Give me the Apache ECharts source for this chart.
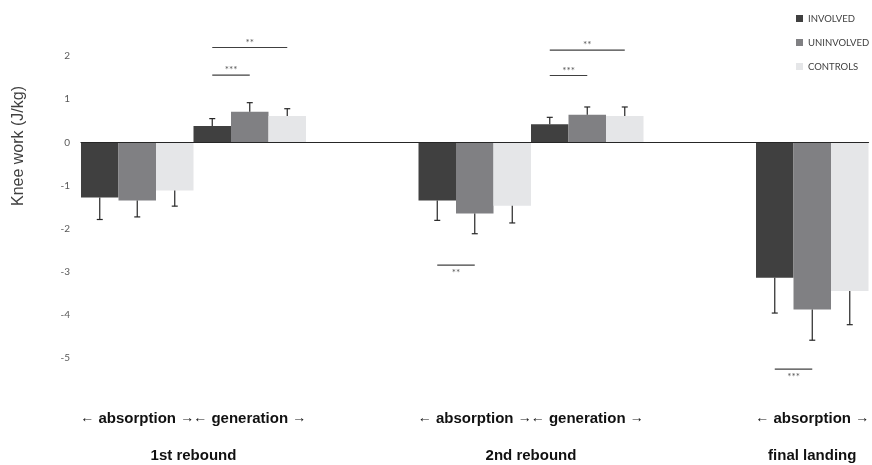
<!DOCTYPE html>
<html>
<head>
<meta charset="utf-8">
<script src="https://cdn.jsdelivr.net/npm/echarts@6/dist/echarts.min.js"></script>
<style>html,body{margin:0;padding:0;background:#fff;overflow:hidden;}#c{width:872px;height:465px;}</style>
</head>
<body>
<div id="c"></div>
<script>
// ---- data ----
const categories = ['abs1', 'gen1', 'gap1', 'abs2', 'gen2', 'gap2', 'abs3'];
const phaseLabels = ['absorption', 'generation', '', 'absorption', 'generation', '', 'absorption'];
const groupNames = ['1st rebound', '2nd rebound', 'final landing'];
const groupPositions = [0.5, 3.5, 6];
const seriesNames = ['INVOLVED', 'UNINVOLVED', 'CONTROLS'];
const involved   = [-1.28, 0.38, null, -1.35, 0.42, null, -3.14];
const uninvolved = [-1.35, 0.71, null, -1.65, 0.64, null, -3.88];
const controls   = [-1.12, 0.61, null, -1.47, 0.61, null, -3.45];
const involvedSD   = [0.51, 0.17, null, 0.46, 0.16, null, 0.82];
const uninvolvedSD = [0.38, 0.21, null, 0.47, 0.18, null, 0.71];
const controlsSD   = [0.36, 0.17, null, 0.40, 0.21, null, 0.78];
const yTicks = [2, 1, 0, -1, -2, -3, -4, -5];
// significance brackets
const sigCategory = [1, 1, 3, 4, 4, 6];
const sigFrom = [0, 0, 0, 0, 0, 0];
const sigTo = [2, 1, 1, 2, 1, 1];
const sigLevel = [2.2, 1.56, -2.85, 2.14, 1.55, -5.26];
const sigText = ['**', '***', '**', '**', '***', '***'];

// ---- build ----
const colors = ['#404040', '#808083', '#e5e6e8'];
const values = [involved, uninvolved, controls];
const sds = [involvedSD, uninvolvedSD, controlsSD];

const errData = [];
values.forEach((arr, s) => arr.forEach((v, i) => {
  if (v !== null) errData.push([i, s, v, sds[s][i]]);
}));
const sigData = sigCategory.map((c, k) => [c, sigFrom[k], sigTo[k], sigLevel[k], k]);

function barCenter(api, cat, s, val) {
  const p = api.coord([cat, val]);
  const band = api.size([1, 0])[0];
  return [p[0] + (s - 1) * band / 3, p[1]];
}

const chart = echarts.init(document.getElementById('c'), null, {renderer: 'canvas'});
chart.setOption({
  animation: false,
  color: colors,
  grid: {left: 81, right: 1, top: 13, bottom: 64, containLabel: false},
  legend: {
    data: seriesNames, orient: 'vertical', left: 796, top: 13, padding: 0,
    itemWidth: 7, itemHeight: 7, itemGap: 13, icon: 'rect',
    textStyle: {fontSize: 9.5, color: '#404040', fontFamily: 'Lato', lineHeight: 11}
  },
  xAxis: [
    {
      type: 'category', data: categories, position: 'bottom', z: 10,
      axisLine: {show: true, onZero: true, lineStyle: {color: '#262626', width: 1.2}},
      axisTick: {show: false}, axisLabel: {show: false}, splitLine: {show: false}
    },
    {
      type: 'category', data: phaseLabels, position: 'bottom',
      axisLine: {show: false}, axisTick: {show: false}, splitLine: {show: false},
      axisLabel: {
        interval: 0, margin: 10, fontSize: 15, fontWeight: 'bold', color: '#111', fontFamily: 'Liberation Sans',
        formatter: v => v ? '{a|\u2190} ' + v + ' {a|\u2192}' : '',
        rich: {a: {fontSize: 14, fontWeight: 'normal', color: '#111', fontFamily: 'Liberation Sans'}}
      }
    },
    {
      type: 'value', min: -0.5, max: 6.5, interval: 0.5, position: 'bottom',
      axisLine: {show: false}, axisTick: {show: false}, splitLine: {show: false},
      axisLabel: {
        margin: 47, fontSize: 15, fontWeight: 'bold', color: '#111', fontFamily: 'Liberation Sans',
        formatter: v => { const k = groupPositions.indexOf(v); return k >= 0 ? groupNames[k] : ''; }
      }
    }
  ],
  yAxis: {
    type: 'value', min: -6, max: 3, interval: 1,
    name: 'Knee work (J/kg)', nameLocation: 'middle', nameGap: 54,
    nameTextStyle: {fontSize: 16, color: '#404040', fontFamily: 'Liberation Sans', padding: [0, 0, 0, 122]},
    axisLine: {show: false}, axisTick: {show: false}, splitLine: {show: false},
    axisLabel: {
      margin: 11, fontSize: 10, color: '#595959', fontFamily: 'Lato',
      formatter: v => yTicks.indexOf(v) >= 0 ? String(v) : ''
    }
  },
  series: [
    ...seriesNames.map((n, s) => ({
      name: n, type: 'bar', data: values[s], barGap: '0%', barCategoryGap: '0%',
      itemStyle: {color: colors[s]}, z: 2
    })),
    {
      type: 'custom', name: 'err', data: errData, z: 5, clip: false,
      encode: {x: 0, y: 2},
      renderItem: (params, api) => {
        const cat = api.value(0), s = api.value(1), v = api.value(2), sd = api.value(3);
        const end = v + (v < 0 ? -sd : sd);
        const a = barCenter(api, cat, s, v);
        const b = barCenter(api, cat, s, end);
        const st = {stroke: '#262626', lineWidth: 1.2};
        return {type: 'group', children: [
          {type: 'line', shape: {x1: a[0], y1: a[1], x2: b[0], y2: b[1]}, style: st},
          {type: 'line', shape: {x1: b[0] - 3, y1: b[1], x2: b[0] + 3, y2: b[1]}, style: st}
        ]};
      }
    },
    {
      type: 'custom', name: 'sig', data: sigData, z: 6, clip: false,
      encode: {x: 0, y: 3},
      renderItem: (params, api) => {
        const cat = api.value(0), f = api.value(1), t = api.value(2), lv = api.value(3), k = api.value(4);
        const a = barCenter(api, cat, f, lv);
        const b = barCenter(api, cat, t, lv);
        const ty = lv >= 0 ? a[1] - 5 : a[1] + 8;
        return {type: 'group', children: [
          {type: 'line', shape: {x1: a[0], y1: a[1], x2: b[0], y2: b[1]}, style: {stroke: '#404040', lineWidth: 1.2}},
          {type: 'text', style: {text: sigText[k], x: (a[0] + b[0]) / 2, y: ty, align: 'center', verticalAlign: 'middle',
            fill: '#595959', font: '10px Lato'}}
        ]};
      }
    }
  ]
});
</script>
</body>
</html>
